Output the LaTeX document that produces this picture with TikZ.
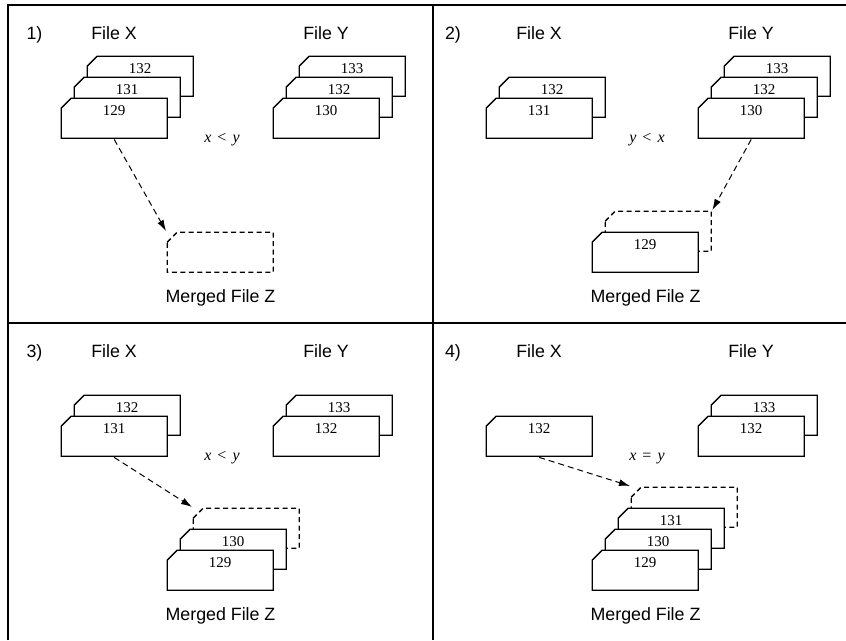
\documentclass[tikz,border=0pt]{standalone}
\usepackage{fontspec}
\setmainfont{Liberation Serif}
\newfontfamily\labelsans{Liberation Sans}
\usetikzlibrary{arrows.meta}

\newcommand\numfont{\fontsize{15}{15}\selectfont}
\newcommand\capfont{\labelsans\fontsize{17.8}{18}\selectfont}
\newcommand\relfont{\fontsize{16}{16}\selectfont}

\tikzset{
  boxline/.style={draw=black, fill=white, line width=1.3pt, line join=miter},
  dashedline/.style={dash pattern=on 5pt off 3.5pt},
  % a record: rectangle with its top-left corner cut off
  filebox/.style={draw=none, minimum width=108pt, minimum height=42pt, inner sep=0pt,
    anchor=north west, xshift=-1pt, yshift=1pt, text height=10pt, text depth=16pt,
    font=\numfont,
    path picture={\path[boxline,#1]
      ([shift={(1pt,-11pt)}]path picture bounding box.north west)
      -- ([shift={(11pt,-1pt)}]path picture bounding box.north west)
      -- ([shift={(-1pt,-1pt)}]path picture bounding box.north east)
      -- ([shift={(-1pt,1pt)}]path picture bounding box.south east)
      -- ([shift={(1pt,1pt)}]path picture bounding box.south west) -- cycle;}},
  filebox/.default={},
  caption/.style={anchor=base, inner sep=0pt, font=\capfont},
  relation/.style={anchor=base, inner sep=0pt, font=\relfont},
  frame/.style={line width=1.5pt},
  conn/.style={dash pattern=on 6pt off 4pt, line width=1pt,
    -{Latex[length=11pt,width=7pt]}},
}

\begin{document}
\begin{tikzpicture}[x=1pt, y=-1pt]
\useasboundingbox (0,0) rectangle (846,640);

% panel frame
\draw[frame] (8,640) -- (8,5) -- (846,5);
\draw[frame] (433,5) -- (433,640);
\draw[frame] (8,323) -- (846,323);

% ---------- panel 1 ----------
\node[caption] (n1) at (34.5,39.5) {1)};
\node[caption] (fx1) at (114,39.5) {File X};
\node[caption] (fy1) at (326,39.5) {File Y};
\node[filebox] (x1c) at (87,56) {132};
\node[filebox] (x1b) at (74,77) {131};
\node[filebox] (x1a) at (61,98) {129};
\node[filebox] (y1c) at (299,56) {133};
\node[filebox] (y1b) at (286,77) {132};
\node[filebox] (y1a) at (273,98) {130};
\node[relation] (r1) at (222,142) {\textit{x}\hspace{6pt}<\hspace{6pt}\textit{y}};
\node[filebox=dashedline] (z1d) at (167,232) {};
\node[caption] (m1) at (220.5,302.5) {Merged File Z};
\draw[conn] (x1a.south) -- (z1d.north west);

% ---------- panel 2 ----------
\node[caption] (n2) at (453,39.5) {2)};
\node[caption] (fx2) at (539,39.5) {File X};
\node[caption] (fy2) at (751,39.5) {File Y};
\node[filebox] (x2b) at (499,77) {132};
\node[filebox] (x2a) at (486,98) {131};
\node[filebox] (y2c) at (724,56) {133};
\node[filebox] (y2b) at (711,77) {132};
\node[filebox] (y2a) at (698,98) {130};
\node[relation] (r2) at (647,142) {\textit{y}\hspace{6pt}<\hspace{6pt}\textit{x}};
\node[filebox=dashedline] (z2d) at (605,211) {};
\node[filebox] (z2a) at (592,232) {129};
\node[caption] (m2) at (645.5,302.5) {Merged File Z};
\draw[conn] (y2a.south) -- (z2d.north east);

% ---------- panel 3 ----------
\node[caption] (n3) at (34.5,357.5) {3)};
\node[caption] (fx3) at (114,357.5) {File X};
\node[caption] (fy3) at (326,357.5) {File Y};
\node[filebox] (x3b) at (74,395) {132};
\node[filebox] (x3a) at (61,416) {131};
\node[filebox] (y3b) at (286,395) {133};
\node[filebox] (y3a) at (273,416) {132};
\node[relation] (r3) at (222,460) {\textit{x}\hspace{6pt}<\hspace{6pt}\textit{y}};
\node[filebox=dashedline] (z3d) at (193,508) {};
\node[filebox] (z3b) at (180,529) {130};
\node[filebox] (z3a) at (167,550) {129};
\node[caption] (m3) at (220.5,620.5) {Merged File Z};
\draw[conn] (x3a.south) -- (z3d.north west);

% ---------- panel 4 ----------
\node[caption] (n4) at (453,357.5) {4)};
\node[caption] (fx4) at (539,357.5) {File X};
\node[caption] (fy4) at (751,357.5) {File Y};
\node[filebox] (x4a) at (486,416) {132};
\node[filebox] (y4b) at (711,395) {133};
\node[filebox] (y4a) at (698,416) {132};
\node[relation] (r4) at (647,460) {\textit{x}\hspace{6pt}=\hspace{6pt}\textit{y}};
\node[filebox=dashedline] (z4d) at (631,487) {};
\node[filebox] (z4c) at (618,508) {131};
\node[filebox] (z4b) at (605,529) {130};
\node[filebox] (z4a) at (592,550) {129};
\node[caption] (m4) at (645.5,620.5) {Merged File Z};
\draw[conn] (x4a.south) -- (z4d.north west);
\end{tikzpicture}
\end{document}
